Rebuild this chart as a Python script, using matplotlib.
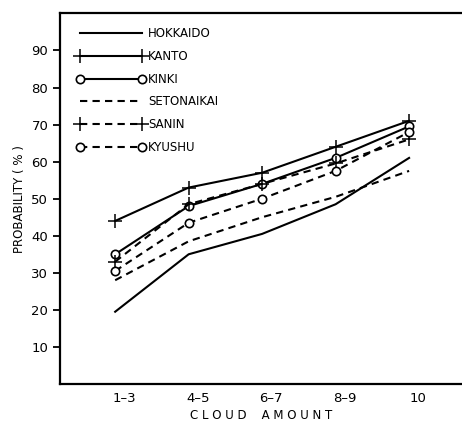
import matplotlib
matplotlib.use("Agg")
import matplotlib.pyplot as plt
from matplotlib.transforms import ScaledTranslation

categories = ["1–3", "4–5", "6–7", "8–9", "10"]
hokkaido = [19.5, 35, 40.5, 48.5, 61]
kanto = [44, 53, 57, 64, 71]
kinki = [35, 48, 54, 61, 69.5]
setonaikai = [28, 38.5, 45, 50.5, 57.5]
sanin = [33, 48.5, 54, 59.5, 66]
kyushu = [30.5, 43.5, 50, 57.5, 68]
yticks = [10, 20, 30, 40, 50, 60, 70, 80, 90]

fig = plt.figure(figsize=(4.62, 4.26), dpi=100)
ax = fig.add_axes([0.130, 0.0986, 0.870, 0.870])

x = list(range(1, len(categories) + 1))
k = "black"
lw = 1.5
dash = (0, (3.5, 2.5))

ax.plot(x, hokkaido, color=k, lw=lw, label="HOKKAIDO")
ax.plot(x, kanto, color=k, lw=lw, marker="+", ms=10, mew=1.1, label="KANTO")
ax.plot(x, kinki, color=k, lw=lw, marker="o", ms=6, mfc="white", mew=1.2,
        label="KINKI")
ax.plot(x, setonaikai, color=k, lw=lw, ls=dash, label="SETONAIKAI")
ax.plot(x, sanin, color=k, lw=lw, ls=dash, marker="+", ms=10, mew=1.1,
        label="SANIN")
ax.plot(x, kyushu, color=k, lw=lw, ls=dash, marker="o", ms=6, mfc="white",
        mew=1.2, label="KYUSHU")

ax.set_xlim(0.25, 5.72)
ax.set_ylim(0, 100)
ax.set_yticks(yticks)
ax.set_xticks(x)
ax.set_xticklabels(categories, fontsize=9.5)
ax.tick_params(axis="x", length=0, pad=6)
ax.tick_params(axis="y", length=5, width=1.3, direction="out", labelsize=9.5)
for lab in ax.get_xticklabels():
    lab.set_transform(lab.get_transform() + ScaledTranslation(9 / 100, 0, fig.dpi_scale_trans))

for side in ("left", "bottom", "top"):
    ax.spines[side].set_linewidth(1.6)
ax.spines["right"].set_visible(False)

ax.set_ylabel("PROBABILITY ( % )", fontsize=8.5, labelpad=4)
ax.set_xlabel("C L O U D    A M O U N T", fontsize=8.5, labelpad=3)

ax.legend(loc="upper left", bbox_to_anchor=(0.03, 0.975), frameon=False,
          numpoints=2, handlelength=5.8, handletextpad=0.25, labelspacing=0.82,
          fontsize=8.5, borderaxespad=0)

fig.savefig("out.png", dpi=100)
